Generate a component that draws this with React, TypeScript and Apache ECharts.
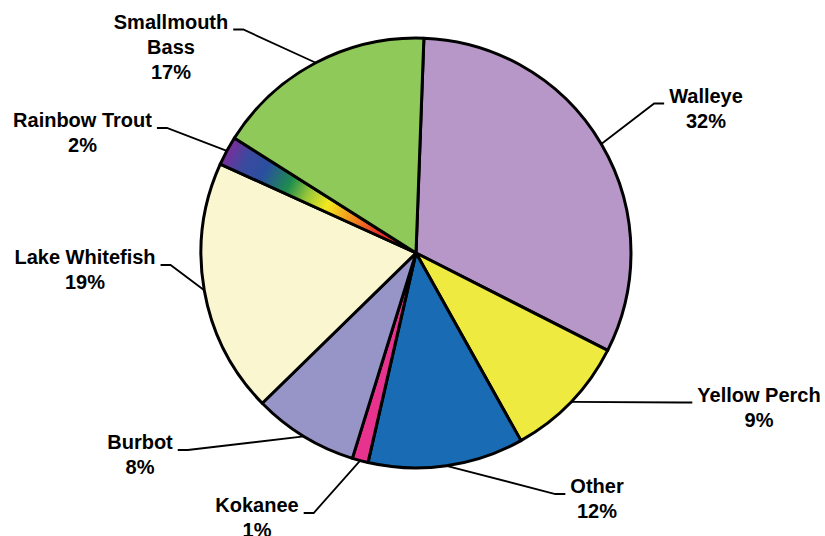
import React, { useEffect, useRef } from "react";
import * as echarts from "echarts";

// ---- data ----
const categories = [
  "Walleye",
  "Yellow Perch",
  "Other",
  "Kokanee",
  "Burbot",
  "Lake Whitefish",
  "Rainbow Trout",
  "Smallmouth Bass",
];
const shares = [31.9, 9.4, 11.7, 1.2, 7.9, 19.1, 2.2, 16.6];
const labelNames = [
  "Walleye",
  "Yellow Perch",
  "Other",
  "Kokanee",
  "Burbot",
  "Lake Whitefish",
  "Rainbow Trout",
  "Smallmouth\nBass",
];

// ---- styles / layout ----
const sliceColors = [
  "#B797C7",
  "#EEEA3F",
  "#196CB3",
  "#E7338E",
  "#9794C8",
  "#FAF7D0",
  null, // rainbow gradient
  "#8FC95A",
];
const CX = 416;
const CY = 253;
const R = 215;
// label anchor: [center x, first-line center y]
const labelPositions: [number, number][] = [
  [706, 95.5],
  [759, 394.5],
  [597, 486],
  [257, 505],
  [140, 442],
  [85, 257],
  [82.5, 120],
  [171, 21.5],
];
const LINE_H = 25;

const rainbow = {
  type: "radial",
  x: CX,
  y: CY,
  r: R,
  global: true,
  colorStops: [
    { offset: 0, color: "#E8202A" },
    { offset: 0.2, color: "#E8302A" },
    { offset: 0.33, color: "#F28A1E" },
    { offset: 0.47, color: "#F2E81E" },
    { offset: 0.57, color: "#9AC83A" },
    { offset: 0.67, color: "#1E8C4E" },
    { offset: 0.8, color: "#2A4FA0" },
    { offset: 0.9, color: "#3B4A9E" },
    { offset: 1, color: "#7A2E9C" },
  ],
};

export default function App() {
  const ref = useRef<HTMLDivElement>(null);
  useEffect(() => {
    document.body.style.margin = "0";
    if (!ref.current) return;
    const chart = echarts.init(ref.current, null, { renderer: "svg" });
    const data = categories.map((name, i) => ({
      name,
      value: shares[i],
      itemStyle: { color: sliceColors[i] ?? (rainbow as any) },
    }));
    chart.setOption({
      animation: false,
      backgroundColor: "#ffffff",
      series: [
        {
          type: "pie",
          center: [CX, CY],
          radius: [0, R],
          startAngle: 87.9,
          clockwise: true,
          avoidLabelOverlap: false,
          data,
          itemStyle: { borderColor: "#000", borderWidth: 3, borderJoin: "round" },
          label: {
            show: true,
            position: "outside",
            formatter: (p: any) =>
              `${labelNames[p.dataIndex]}\n${Math.round(p.percent)}%`,
            fontFamily: "'Liberation Sans', Arial, sans-serif",
            fontWeight: "bold",
            fontSize: 20,
            lineHeight: LINE_H,
            color: "#000",
            align: "center",
          },
          labelLine: {
            show: true,
            length: 10,
            length2: 10,
            smooth: false,
            lineStyle: { color: "#000", width: 1.8 },
          },
          labelLayout: (params: any) => {
            const i = params.dataIndex;
            const [lx, ly] = labelPositions[i];
            const w = params.labelRect.width;
            const leftSide = lx < CX;
            const edgeX = leftSide ? lx + w / 2 + 5 : lx - w / 2 - 5;
            const bendX = leftSide ? edgeX + 10 : edgeX - 10;
            const lineY = ly + 8;
            const p0 = params.labelLinePoints
              ? params.labelLinePoints[0]
              : [bendX, lineY];
            return {
              x: lx,
              y: ly - LINE_H / 2,
              align: "center",
              verticalAlign: "top",
              labelLinePoints: [p0, [bendX, lineY], [edgeX, lineY]],
            };
          },
          emphasis: { disabled: true },
        },
      ],
    });
    return () => chart.dispose();
  }, []);
  return <div ref={ref} style={{ width: 825, height: 536 }} />;
}
